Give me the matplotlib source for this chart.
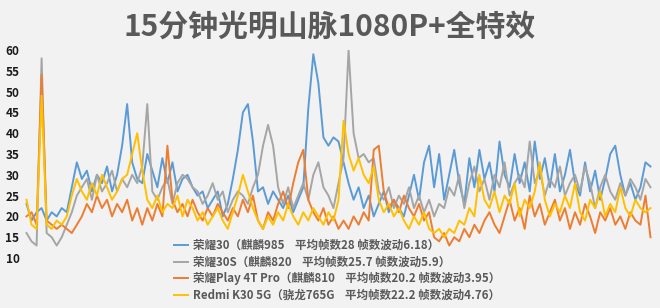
import numpy as np
from matplotlib import pyplot as plt

plt.rcParams['font.family'] = ['Noto Sans CJK SC', 'DejaVu Sans']

TITLE = "15分钟光明山脉1080P+全特效"

LABELS = [
    "荣耀30（麒麟985    平均帧数28 帧数波动6.18）",
    "荣耀30S（麒麟820    平均帧数25.7 帧数波动5.9）",
    "荣耀Play 4T Pro（麒麟810    平均帧数20.2 帧数波动3.95）",
    "Redmi K30 5G（骁龙765G    平均帧数22.2 帧数波动4.76）",
]

honor30 = [23, 19, 21, 22, 19, 21, 20, 22, 21, 27, 33, 29, 31, 26, 30, 28, 32, 26, 30, 37,
           47, 33, 29, 28, 35, 31, 27, 34, 28, 33, 26, 29, 30, 27, 25, 26, 22, 24, 26, 20,
           23, 29, 36, 45, 47, 38, 26, 27, 23, 26, 24, 22, 25, 21, 24, 27, 46, 59, 52, 39,
           37, 39, 38, 33, 28, 24, 27, 22, 25, 20, 23, 26, 21, 24, 22, 20, 25, 30, 24, 33,
           37, 27, 35, 24, 30, 36, 28, 23, 34, 27, 36, 29, 33, 26, 38, 30, 27, 35, 28, 33,
           26, 38, 29, 34, 27, 35, 26, 30, 36, 28, 25, 33, 26, 31, 24, 29, 35, 37, 30, 25,
           28, 24, 27, 33, 32]

honor30s = [16, 14, 13, 58, 16, 15, 13, 15, 18, 21, 25, 27, 29, 24, 30, 26, 28, 31, 26, 29,
            27, 30, 28, 32, 47, 26, 24, 27, 29, 23, 28, 30, 29, 27, 26, 23, 25, 28, 24, 26,
            21, 24, 26, 25, 23, 27, 30, 37, 42, 37, 27, 23, 27, 22, 25, 28, 24, 30, 33, 27,
            25, 22, 28, 34, 60, 40, 34, 35, 33, 34, 26, 24, 27, 22, 25, 23, 27, 22, 25, 21,
            24, 20, 23, 22, 27, 25, 30, 22, 28, 32, 26, 29, 24, 30, 27, 33, 25, 28, 30, 27,
            38, 28, 31, 25, 29, 27, 32, 25, 28, 30, 26, 32, 28, 22, 27, 30, 26, 24, 28, 25,
            29, 27, 24, 29, 27]

play4t = [20, 21, 18, 54, 19, 18, 17, 18, 17, 16, 18, 20, 23, 21, 25, 22, 24, 20, 23, 21,
          24, 19, 22, 18, 22, 19, 23, 20, 37, 24, 21, 23, 20, 24, 21, 19, 22, 20, 23, 21,
          19, 22, 20, 24, 21, 25, 19, 17, 21, 19, 23, 26, 22, 28, 33, 36, 24, 21, 19, 22,
          18, 20, 17, 19, 17, 20, 18, 21, 19, 36, 37, 26, 22, 24, 21, 25, 22, 20, 23, 19,
          21, 15, 14, 16, 13, 15, 14, 17, 15, 18, 16, 19, 21, 18, 16, 20, 24, 19, 22, 17,
          25, 20, 23, 18, 21, 24, 19, 22, 17, 21, 18, 23, 20, 16, 21, 19, 22, 18, 20, 17,
          21, 19, 18, 25, 15]

k30 = [24, 18, 17, 49, 18, 17, 19, 18, 20, 25, 29, 26, 24, 28, 25, 30, 27, 24, 26, 29,
       30, 35, 40, 31, 24, 22, 25, 21, 23, 22, 25, 20, 24, 22, 19, 21, 18, 20, 22, 19,
       17, 21, 25, 30, 26, 22, 19, 17, 20, 18, 21, 19, 23, 20, 18, 21, 19, 22, 20, 18,
       21, 19, 24, 43, 35, 31, 34, 30, 28, 32, 24, 21, 23, 20, 22, 19, 17, 20, 18, 21,
       17, 16, 17, 15, 17, 16, 19, 18, 22, 20, 30, 24, 22, 26, 21, 25, 23, 28, 20, 24,
       22, 26, 33, 24, 20, 23, 21, 25, 22, 28, 21, 19, 24, 22, 26, 20, 23, 21, 27, 22,
       20, 24, 22, 21, 22]

COLORS = ['#5b9bd5', '#a5a5a5', '#ed7d31', '#ffc000']
BG = '#f2f2f2'

fig = plt.figure(figsize=(6.6, 3.08), dpi=100, facecolor=BG)
ax = fig.add_axes([25 / 660, 1 - 258 / 308, 627 / 660, 208 / 308])
ax.set_facecolor(BG)

series = [honor30, honor30s, play4t, k30]
for vals, color, label in zip(series, COLORS, LABELS):
    x = np.arange(len(vals))
    ax.plot(x, vals, color=color, lw=1.4, label=label)

ax.set_xlim(-0.3, len(honor30) - 0.7)
ax.set_ylim(10, 60)
ax.set_yticks(np.arange(10, 61, 5))
ax.set_xticks([])
for s in ax.spines.values():
    s.set_visible(False)
ax.tick_params(axis='y', length=0, pad=4, labelsize=8.5, labelcolor='#1a1a1a')
for t in ax.get_yticklabels():
    t.set_fontweight('bold')

fig.text(0.5, 1 - 27 / 308, TITLE, ha='center', va='center', fontsize=21.5,
         fontweight='bold', color='#595959')

leg = fig.legend(loc='lower left', bbox_to_anchor=(168 / 660, 0.0), frameon=False,
                 fontsize=8.3, labelcolor='#595959', handlelength=1.2,
                 handletextpad=0.4, labelspacing=0.3, borderaxespad=0.15)
for t in leg.get_texts():
    t.set_fontweight('bold')

plt.savefig("out.png", dpi=100, facecolor=BG)
